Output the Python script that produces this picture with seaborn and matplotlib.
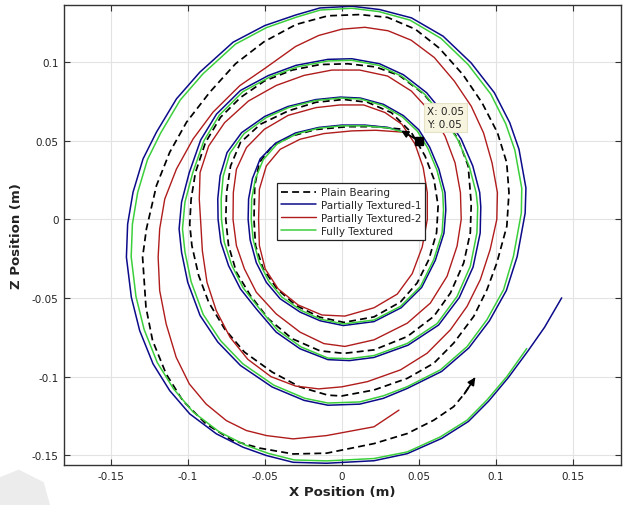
import matplotlib
matplotlib.use("Agg")
import matplotlib.pyplot as plt
from matplotlib.patches import Polygon
import seaborn as sns
import pandas as pd

# Orbit of the shaft centre in the X-Z plane for the four bearing designs (m)
plain_x = [0.038, 0.022, 0.004, -0.0168, -0.0322, -0.0452, -0.0535, -0.0565, -0.057, -0.056, -0.051,
           -0.042, -0.0297, -0.0142, 0.0013, 0.0209, 0.0381, 0.0489, 0.0565, 0.0615, 0.0625, 0.0598,
           0.054, 0.0452, 0.0322, 0.0168, 0.0013, -0.0168, -0.0348, -0.0529, -0.0658, -0.0722, -0.0748,
           -0.0753, -0.0735, -0.0684, -0.0593, -0.0477, -0.0322, -0.0142, 0.0013, 0.0209, 0.0425,
           0.0597, 0.0705, 0.0791, 0.0834, 0.084, 0.082, 0.0755, 0.0655, 0.0529, 0.0374, 0.0219,
           0.0039, -0.0142, -0.0322, -0.0503, -0.0658, -0.0787, -0.0885, -0.095, -0.0978, -0.0987,
           -0.0973, -0.0929, -0.0864, -0.0761, -0.0632, -0.0452, -0.0271, -0.009, 0.0, 0.0209, 0.0425,
           0.0597, 0.0726, 0.0856, 0.0942, 0.1006, 0.1071, 0.1085, 0.107, 0.101, 0.091, 0.0787, 0.0632,
           0.0477, 0.0297, 0.0116, -0.009, -0.0297, -0.0505, -0.069, -0.0857, -0.1008, -0.1117,
           -0.1203, -0.1268, -0.1293, -0.1271, -0.1228, -0.114, -0.1032, -0.0881, -0.0708, -0.0532,
           -0.0316, -0.0099, 0.0209, 0.0425, 0.0597, 0.0726, 0.0795, 0.0866]
plain_z = [0.0575, 0.059, 0.059, 0.0572, 0.0531, 0.0467, 0.0362, 0.0214, 0.0, -0.0167, -0.0315,
           -0.0442, -0.0548, -0.0622, -0.0655, -0.062, -0.0525, -0.0404, -0.0255, -0.0085, 0.0087,
           0.0256, 0.0404, 0.0552, 0.0679, 0.0745, 0.0763, 0.0745, 0.069, 0.0605, 0.0489, 0.034,
           0.0171, 0.0, -0.0167, -0.0336, -0.0484, -0.0632, -0.0759, -0.0836, -0.0852, -0.083,
           -0.0745, -0.0617, -0.0468, -0.0277, -0.0085, 0.01, 0.034, 0.051, 0.0658, 0.08, 0.0915,
           0.097, 0.099, 0.0985, 0.095, 0.088, 0.0775, 0.065, 0.0489, 0.0298, 0.0129, -0.003,
           -0.0167, -0.0357, -0.0527, -0.0696, -0.0844, -0.0971, -0.1066, -0.1118, -0.1123, -0.1085,
           -0.1011, -0.0915, -0.0787, -0.0617, -0.0447, -0.0277, -0.0043, 0.0171, 0.0362, 0.0552,
           0.0742, 0.092, 0.109, 0.121, 0.1285, 0.1303, 0.1295, 0.124, 0.113, 0.099, 0.0809, 0.0618,
           0.0427, 0.0215, -0.006, -0.024, -0.0559, -0.0771, -0.0983, -0.1153, -0.1301, -0.1407,
           -0.1455, -0.1492, -0.1487, -0.1426, -0.1362, -0.1277, -0.1191, -0.111, -0.1005]

pt1_x = [0.042, 0.030, 0.015, 0.000, -0.015, -0.030, -0.043, -0.053, -0.058, -0.0605, -0.0608, -0.0595,
         -0.0555, -0.049, -0.040, -0.027, -0.014, 0.001, 0.0209, 0.0385, 0.0518, 0.0607, 0.0663, 0.0675,
         0.067, 0.063, 0.057, 0.050, 0.040, 0.027, 0.012, -0.001, -0.017, -0.035, -0.050, -0.065,
         -0.0745, -0.079, -0.0805, -0.0803, -0.0785, -0.0735, -0.0658, -0.0555, -0.0426, -0.0271,
         -0.009, 0.005, 0.0209, 0.043, 0.0628, 0.0762, 0.0852, 0.0898, 0.0902, 0.0895, 0.085, 0.0775,
         0.0675, 0.055, 0.040, 0.0245, 0.0065, -0.009, -0.0297, -0.0477, -0.0658, -0.0813, -0.0916,
         -0.099, -0.104, -0.1056, -0.104, -0.100, -0.092, -0.0805, -0.0658, -0.0452, -0.0245, -0.009,
         0.0116, 0.027, 0.0425, 0.0648, 0.0825, 0.0958, 0.1068, 0.1138, 0.119, 0.1195, 0.115, 0.109,
         0.099, 0.0839, 0.0658, 0.0452, 0.0245, 0.0065, -0.0142, -0.030, -0.050, -0.0706, -0.0922,
         -0.1073, -0.1203, -0.129, -0.1355, -0.139, -0.1398, -0.1366, -0.1312, -0.1225, -0.1117,
         -0.0987, -0.0814, -0.0641, -0.0489, -0.0316, -0.0099, 0.0209, 0.0425, 0.0648, 0.0822,
         0.0952, 0.108, 0.1208, 0.1316, 0.1427]
pt1_z = [0.055, 0.0585, 0.060, 0.060, 0.0585, 0.055, 0.0485, 0.0385, 0.026, 0.013, 0.0, -0.013, -0.0275,
         -0.040, -0.0505, -0.059, -0.0645, -0.0675, -0.065, -0.0562, -0.0433, -0.026, -0.0087, 0.006,
         0.017, 0.032, 0.046, 0.057, 0.066, 0.0732, 0.0772, 0.0778, 0.0762, 0.0718, 0.0655, 0.0552,
         0.0425, 0.0277, 0.013, 0.0, -0.0146, -0.0294, -0.0442, -0.0569, -0.0717, -0.0823, -0.0892,
         -0.0898, -0.0878, -0.080, -0.0672, -0.0498, -0.0303, -0.0087, 0.008, 0.0171, 0.034, 0.051,
         0.0658, 0.0806, 0.092, 0.099, 0.1022, 0.1018, 0.098, 0.0915, 0.082, 0.067, 0.0505, 0.0298,
         0.011, -0.006, -0.0209, -0.040, -0.0611, -0.078, -0.0929, -0.1066, -0.1151, -0.1182, -0.1175,
         -0.1138, -0.1075, -0.0967, -0.0817, -0.0645, -0.0452, -0.0237, 0.004, 0.020, 0.0446, 0.0615,
         0.0806, 0.0996, 0.1165, 0.1282, 0.1335, 0.1356, 0.1345, 0.130, 0.1233, 0.1127, 0.0936,
         0.0767, 0.0555, 0.0385, 0.0173, -0.003, -0.024, -0.0495, -0.0707, -0.0919, -0.1089, -0.1237,
         -0.1364, -0.1449, -0.1502, -0.1545, -0.1551, -0.1535, -0.149, -0.1393, -0.1285, -0.1157,
         -0.1007, -0.0837, -0.0686, -0.0499]

pt2_x = [0.040, 0.0219, 0.0065, -0.0116, -0.0271, -0.040, -0.049, -0.0535, -0.054, -0.0535, -0.0497,
         -0.0413, -0.0284, -0.0129, 0.002, 0.0209, 0.036, 0.0457, 0.0522, 0.0555, 0.0555, 0.0528,
         0.0475, 0.039, 0.028, 0.0142, -0.0013, -0.0168, -0.0348, -0.0503, -0.0619, -0.0684, -0.0704,
         -0.0706, -0.0684, -0.0632, -0.0555, -0.0426, -0.0271, -0.0116, 0.002, 0.0209, 0.0425, 0.0575,
         0.0683, 0.0748, 0.0775, 0.077, 0.0735, 0.067, 0.058, 0.0452, 0.0297, 0.0116, -0.0064,
         -0.0245, -0.0426, -0.0606, -0.0761, -0.0864, -0.092, -0.0925, -0.0915, -0.0905, -0.0875,
         -0.0815, -0.0725, -0.061, -0.046, -0.030, -0.015, 0.0, 0.0166, 0.0381, 0.0554, 0.0705,
         0.0813, 0.0899, 0.0963, 0.1006, 0.101, 0.0975, 0.092, 0.084, 0.073, 0.060, 0.045, 0.030,
         0.015, 0.0, -0.015, -0.030, -0.050, -0.0662, -0.0836, -0.0965, -0.1073, -0.1149, -0.1182,
         -0.1192, -0.1182, -0.114, -0.1075, -0.099, -0.0881, -0.0749, -0.0619, -0.0489, -0.0316,
         -0.0099, 0.0209, 0.0371]
pt2_z = [0.0555, 0.0567, 0.0563, 0.0546, 0.051, 0.0446, 0.034, 0.0192, 0.0, -0.0167, -0.0315, -0.0442,
         -0.0544, -0.0608, -0.0615, -0.0562, -0.0475, -0.0345, -0.0175, 0.0, 0.017, 0.033, 0.048,
         0.0605, 0.068, 0.0728, 0.0728, 0.0711, 0.0662, 0.0573, 0.0457, 0.0319, 0.0171, 0.0, -0.0167,
         -0.0315, -0.0463, -0.0601, -0.0717, -0.079, -0.0808, -0.0766, -0.066, -0.0532, -0.0362,
         -0.017, 0.0, 0.017, 0.036, 0.053, 0.0679, 0.0816, 0.0912, 0.095, 0.095, 0.0916, 0.0852,
         0.0753, 0.0615, 0.0467, 0.0298, 0.0129, -0.003, -0.020, -0.040, -0.058, -0.075, -0.089,
         -0.100, -0.106, -0.1078, -0.1065, -0.1032, -0.0957, -0.0851, -0.0702, -0.0553, -0.0383,
         -0.0191, 0.0, 0.017, 0.036, 0.055, 0.072, 0.088, 0.103, 0.114, 0.120, 0.1222, 0.121, 0.117,
         0.110, 0.096, 0.0851, 0.0682, 0.0512, 0.0321, 0.013, -0.006, -0.024, -0.0453, -0.0665,
         -0.0877, -0.1046, -0.1174, -0.128, -0.1343, -0.1375, -0.1396, -0.1375, -0.1319, -0.1213]

full_x = [0.042, 0.030, 0.015, 0.000, -0.015, -0.029, -0.042, -0.051, -0.056, -0.0585, -0.0588, -0.0575,
          -0.0537, -0.0475, -0.0388, -0.0262, -0.0137, 0.001, 0.0209, 0.0381, 0.0511, 0.0597, 0.0651,
          0.066, 0.0655, 0.0617, 0.0558, 0.049, 0.0393, 0.0265, 0.012, -0.001, -0.017, -0.0343,
          -0.049, -0.0635, -0.0727, -0.077, -0.0783, -0.0781, -0.0763, -0.0715, -0.064, -0.054,
          -0.0415, -0.0265, -0.009, 0.005, 0.0209, 0.0425, 0.0619, 0.0748, 0.0834, 0.0877, 0.0882,
          0.0872, 0.0828, 0.0755, 0.0658, 0.0537, 0.039, 0.024, 0.0065, -0.009, -0.029, -0.0467,
          -0.0643, -0.0795, -0.0895, -0.0968, -0.1018, -0.1034, -0.1018, -0.0978, -0.090, -0.0787,
          -0.0643, -0.0442, -0.024, -0.009, 0.0116, 0.027, 0.0425, 0.064, 0.0813, 0.0942, 0.105,
          0.1114, 0.1165, 0.1168, 0.1123, 0.1064, 0.0967, 0.082, 0.0643, 0.0442, 0.024, 0.0065,
          -0.0139, -0.0293, -0.0489, -0.069, -0.0901, -0.1049, -0.1176, -0.1261, -0.1325, -0.1359,
          -0.1367, -0.1336, -0.1283, -0.1198, -0.1092, -0.0965, -0.0796, -0.0627, -0.0478, -0.0309,
          -0.0099, 0.0209, 0.0425, 0.064, 0.0813, 0.0942, 0.1071, 0.120]
full_z = [0.055, 0.0582, 0.0595, 0.0595, 0.058, 0.0545, 0.048, 0.038, 0.026, 0.013, 0.0, -0.013, -0.027,
          -0.0392, -0.0495, -0.058, -0.0635, -0.0665, -0.064, -0.0553, -0.0426, -0.0255, -0.0085,
          0.006, 0.017, 0.0315, 0.0453, 0.0562, 0.0652, 0.0725, 0.0766, 0.0772, 0.0756, 0.0712,
          0.0648, 0.0545, 0.042, 0.0274, 0.013, 0.0, -0.0144, -0.029, -0.0436, -0.0561, -0.0706,
          -0.0811, -0.0882, -0.0886, -0.0866, -0.0789, -0.0662, -0.049, -0.0298, -0.0085, 0.008,
          0.0169, 0.0335, 0.0503, 0.065, 0.0797, 0.091, 0.098, 0.1012, 0.1008, 0.097, 0.0906, 0.0812,
          0.0663, 0.050, 0.0295, 0.011, -0.006, -0.0207, -0.0396, -0.0604, -0.0771, -0.0918, -0.1054,
          -0.1138, -0.1168, -0.1161, -0.1122, -0.1064, -0.0957, -0.0809, -0.0638, -0.0447, -0.0234,
          0.004, 0.0198, 0.0441, 0.0608, 0.0797, 0.0985, 0.1152, 0.1268, 0.1322, 0.1343, 0.1332,
          0.1287, 0.122, 0.1115, 0.0926, 0.0759, 0.0549, 0.0381, 0.0171, -0.003, -0.0237, -0.049,
          -0.070, -0.091, -0.1078, -0.1225, -0.1351, -0.1435, -0.1488, -0.153, -0.1536, -0.1521,
          -0.1479, -0.1383, -0.1277, -0.1149, -0.100, -0.0822]

# Data cursor on the starting position and the direction of travel
tip_x = [0.05, 0.0385]
tip_z = [0.05, 0.0565]

series = [
    ("Plain Bearing", plain_x, plain_z, "black", (4, 2.4), 1.25),
    ("Partially Textured-1", pt1_x, pt1_z, "#0b0b8a", "", 1.1),
    ("Partially Textured-2", pt2_x, pt2_z, "#b01c1c", "", 1.0),
    ("Fully Textured", full_x, full_z, "#3ccf3c", "", 1.1),
]

sns.set_theme(style="whitegrid")
plt.rcParams["font.family"] = ["DejaVu Sans"]

fig = plt.figure(figsize=(6.25, 5.06), dpi=100)
ax = fig.add_axes([0.1024, 0.0791, 0.8912, 0.9091])
ax.set_facecolor("white")

for name, xs, zs, color, dash, lw in series:
    df = pd.DataFrame({"x": xs, "z": zs})
    sns.lineplot(data=df, x="x", y="z", sort=False, estimator=None, ax=ax,
                 color=color, lw=lw, label=name)
    if dash:
        ax.lines[-1].set_dashes(dash)

# Arrowhead at the end of the plain-bearing orbit
ax.annotate("", xy=(plain_x[-1], plain_z[-1]), xytext=(plain_x[-2], plain_z[-2]),
            arrowprops=dict(arrowstyle="-|>", color="black", lw=1.2, mutation_scale=11,
                            shrinkA=0, shrinkB=0))

# Data cursor marker, arrow and label box
ax.annotate("", xy=(tip_x[1], tip_z[1]), xytext=(tip_x[0], tip_z[0]),
            arrowprops=dict(arrowstyle="-|>", color="black", lw=1.3, mutation_scale=10,
                            shrinkA=0, shrinkB=0))
ax.plot(tip_x[0], tip_z[0], marker="s", color="black", ms=5.5, ls="none")
ax.text(0.0552, 0.0575, f"X: {tip_x[0]:.2f}\nY: {tip_z[0]:.2f}", fontsize=7.5, ha="left",
        va="bottom", color="#222222", linespacing=1.35,
        bbox=dict(boxstyle="square,pad=0.3", fc="#f7f4df", ec="#e6e2c8", lw=0.8))

ax.set_xlim(-0.1803, 0.1812)
ax.set_ylim(-0.1562, 0.1364)
ax.set_xticks([-0.15, -0.1, -0.05, 0, 0.05, 0.1, 0.15])
ax.set_xticklabels(["-0.15", "-0.1", "-0.05", "0", "0.05", "0.1", "0.15"])
ax.set_yticks([-0.15, -0.1, -0.05, 0, 0.05, 0.1])
ax.set_yticklabels(["-0.15", "-0.1", "-0.05", "0", "0.05", "0.1"])
ax.grid(True, color="#e3e3e3", lw=0.8)
ax.tick_params(axis="both", which="both", direction="in", length=4, width=0.8, colors="#333333",
               labelsize=7.5, labelcolor="#222222", top=True, right=True, bottom=True, left=True,
               pad=4)
for sp in ax.spines.values():
    sp.set_visible(True)
    sp.set_color("#333333")
    sp.set_linewidth(1.0)

ax.set_xlabel("X Position (m)", fontsize=9.5, fontweight="bold", color="#222222", labelpad=3)
ax.set_ylabel("Z Position (m)", fontsize=9.5, fontweight="bold", color="#222222", labelpad=6)

leg = ax.legend(loc="upper left", bbox_to_anchor=(0.382, 0.613), fontsize=7.5, frameon=True,
                fancybox=False, edgecolor="#222222", framealpha=1, handlelength=3.4,
                handletextpad=0.4, borderpad=0.4, labelspacing=0.28, borderaxespad=0)
leg.get_frame().set_linewidth(0.9)

# Faint grey smudge in the lower-left corner of the figure
fig.patches.append(Polygon([(0, 0), (0, 0.055), (0.03, 0.07), (0.07, 0.045), (0.08, 0)],
                           closed=True, transform=fig.transFigure, fc="#ececec", ec="none",
                           zorder=0))

fig.savefig("out.png", dpi=100, facecolor="white")
